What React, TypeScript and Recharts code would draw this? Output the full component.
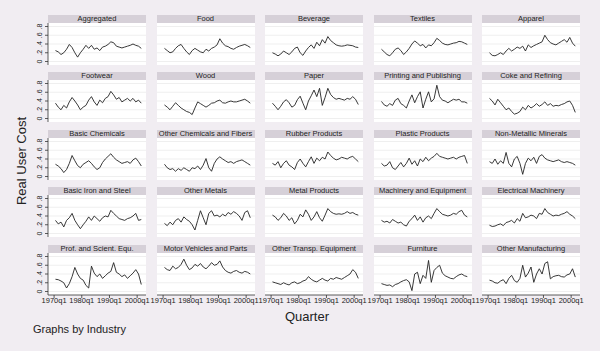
import { LineChart, Line, XAxis, YAxis, CartesianGrid } from "recharts";

// quarterly series at one point per year (1970-2001)
const years = [
  1970, 1971, 1972, 1973, 1974, 1975, 1976, 1977, 1978, 1979, 1980, 1981, 1982, 1983, 1984, 1985,
  1986, 1987, 1988, 1989, 1990, 1991, 1992, 1993, 1994, 1995, 1996, 1997, 1998, 1999, 2000, 2001,
];

const xTicks = [1970, 1980, 1990, 2000];
const xTickLabels = ["1970q1", "1980q1", "1990q1", "2000q1"];
const yTicks = [0, 0.2, 0.4, 0.6, 0.8];
const yTickLabels = ["0", ".2", ".4", ".6", ".8"];

const industries = [
  "Aggregated", "Food", "Beverage", "Textiles", "Apparel",
  "Footwear", "Wood", "Paper", "Printing and Publishing", "Coke and Refining",
  "Basic Chemicals", "Other Chemicals and Fibers", "Rubber Products", "Plastic Products", "Non-Metallic Minerals",
  "Basic Iron and Steel", "Other Metals", "Metal Products", "Machinery and Equipment", "Electrical Machinery",
  "Prof. and Scient. Equ.", "Motor Vehicles and Parts", "Other Transp. Equipment", "Furniture", "Other Manufacturing",
];

const aggregated = [.25, .22, .16, .2, .28, .39, .32, .2, .1, .2, .28, .37, .3, .37, .28, .31, .25, .33, .35, .39, .45, .43, .35, .33, .31, .33, .35, .37, .4, .37, .35, .3];
const food = [.3, .25, .2, .22, .3, .36, .39, .3, .22, .16, .25, .3, .26, .22, .2, .28, .24, .3, .33, .38, .52, .42, .36, .34, .3, .28, .32, .35, .37, .39, .36, .32];
const beverage = [.2, .17, .13, .17, .24, .2, .16, .22, .3, .33, .2, .14, .24, .32, .38, .3, .44, .36, .5, .42, .57, .48, .43, .38, .36, .35, .36, .38, .37, .36, .33, .32];
const textiles = [.28, .22, .16, .13, .2, .28, .31, .25, .16, .22, .3, .4, .47, .42, .36, .39, .31, .38, .36, .43, .53, .48, .42, .39, .38, .4, .42, .43, .46, .45, .42, .39];
const apparel = [.2, .14, .13, .16, .2, .16, .24, .3, .24, .28, .33, .3, .35, .24, .38, .32, .36, .39, .42, .45, .6, .5, .43, .4, .38, .42, .46, .5, .44, .55, .42, .35];
const footwear = [.35, .26, .2, .3, .24, .38, .48, .4, .31, .2, .26, .3, .42, .5, .38, .3, .42, .36, .46, .5, .62, .54, .44, .48, .38, .42, .46, .4, .46, .38, .42, .35];
const wood = [.31, .26, .2, .28, .36, .3, .24, .2, .16, .14, .09, .24, .38, .34, .3, .26, .3, .35, .36, .4, .42, .36, .35, .38, .4, .38, .38, .4, .42, .44, .4, .35];
const paper = [.35, .28, .2, .28, .38, .43, .36, .26, .3, .43, .51, .35, .2, .4, .52, .65, .5, .69, .3, .48, .69, .55, .48, .44, .46, .44, .42, .46, .44, .5, .44, .32];
const printing = [.39, .31, .28, .34, .3, .42, .46, .34, .3, .24, .4, .54, .36, .5, .61, .24, .44, .61, .38, .45, .76, .5, .42, .4, .36, .4, .44, .42, .44, .38, .38, .35];
const coke = [.46, .4, .31, .44, .36, .28, .2, .24, .16, .1, .12, .16, .26, .2, .3, .24, .28, .34, .28, .32, .38, .3, .34, .28, .3, .29, .32, .34, .38, .4, .3, .14];
const basicChem = [.28, .24, .18, .09, .16, .3, .48, .36, .25, .2, .28, .32, .36, .3, .22, .16, .2, .32, .4, .46, .52, .44, .38, .34, .3, .32, .34, .3, .38, .42, .34, .24];
const otherChem = [.28, .2, .16, .18, .12, .18, .14, .2, .16, .12, .2, .18, .24, .16, .26, .41, .2, .12, .3, .4, .45, .4, .36, .32, .34, .3, .34, .36, .38, .34, .3, .26];
const rubber = [.3, .26, .34, .2, .3, .36, .26, .22, .16, .32, .4, .3, .22, .34, .45, .3, .42, .36, .44, .4, .56, .48, .42, .38, .4, .44, .42, .4, .44, .46, .4, .34];
const plastic = [.3, .24, .26, .34, .2, .16, .24, .32, .22, .3, .42, .28, .36, .24, .4, .34, .44, .36, .42, .46, .53, .46, .44, .42, .4, .42, .44, .4, .44, .46, .48, .3];
const nonMetallic = [.34, .3, .4, .28, .36, .3, .55, .3, .22, .4, .46, .3, .05, .3, .42, .36, .44, .3, .46, .5, .42, .38, .36, .34, .36, .38, .34, .32, .34, .32, .3, .26];
const ironSteel = [.3, .22, .26, .15, .3, .36, .46, .3, .2, .11, .2, .28, .38, .3, .4, .34, .28, .36, .4, .38, .53, .46, .4, .34, .32, .3, .34, .36, .4, .46, .3, .32];
const otherMetals = [.23, .18, .26, .2, .3, .34, .26, .38, .32, .28, .2, .08, .3, .52, .36, .2, .46, .52, .4, .42, .38, .44, .4, .48, .44, .5, .46, .4, .3, .48, .52, .36];
const metalProducts = [.42, .38, .3, .36, .46, .4, .3, .36, .22, .3, .44, .38, .54, .44, .3, .38, .5, .36, .28, .42, .57, .5, .46, .44, .45, .44, .46, .5, .46, .48, .44, .42];
const machinery = [.3, .26, .28, .24, .32, .28, .24, .26, .2, .17, .28, .34, .42, .3, .38, .26, .36, .4, .34, .46, .57, .5, .44, .42, .4, .42, .46, .44, .5, .53, .42, .38];
const electrical = [.19, .16, .17, .2, .22, .18, .25, .27, .3, .24, .34, .28, .46, .36, .38, .42, .4, .34, .46, .44, .57, .48, .44, .4, .42, .41, .44, .46, .5, .44, .4, .34];
const profScient = [.28, .27, .24, .2, .08, .18, .34, .55, .4, .3, .26, .14, .08, .58, .42, .34, .4, .3, .36, .42, .46, .66, .44, .4, .34, .38, .3, .36, .42, .5, .4, .16];
const motorVehicles = [.55, .5, .48, .58, .52, .55, .62, .74, .6, .5, .54, .62, .58, .64, .56, .52, .58, .66, .6, .62, .7, .56, .48, .44, .42, .46, .48, .44, .42, .46, .44, .4];
const otherTransp = [.22, .2, .18, .16, .2, .17, .15, .2, .22, .18, .2, .24, .26, .34, .28, .24, .22, .26, .3, .26, .24, .3, .28, .32, .3, .28, .32, .36, .4, .5, .44, .3];
const furniture = [.18, .16, .14, .15, .11, .16, .18, .22, .25, .27, .22, .02, .4, .44, .18, .37, .3, .71, .21, .48, .55, .6, .42, .36, .33, .3, .29, .34, .38, .4, .36, .34];
const otherManuf = [.26, .24, .2, .19, .24, .27, .18, .3, .37, .25, .21, .3, .6, .33, .42, .56, .21, .4, .52, .4, .64, .68, .29, .34, .36, .37, .34, .33, .38, .4, .52, .33];

const series = [
  aggregated, food, beverage, textiles, apparel,
  footwear, wood, paper, printing, coke,
  basicChem, otherChem, rubber, plastic, nonMetallic,
  ironSteel, otherMetals, metalProducts, machinery, electrical,
  profScient, motorVehicles, otherTransp, furniture, otherManuf,
];

const BOX_W = 98;
const BOX_H = 42;
const STRIP_H = 8;
const X_DOMAIN: [number, number] = [1967.8, 2003.2];
const Y_DOMAIN: [number, number] = [-0.08, 0.88];
const PAGE_BG = "#f1edf2";
const STRIP_BG = "#d6d0d8";
const INK = "#222";

function YTick({ x, y, payload }: any) {
  const i = yTicks.findIndex((t) => Math.abs(t - payload.value) < 1e-6);
  const bx = x - 1;
  return (
    <text x={bx} y={y} transform={`rotate(-90 ${bx} ${y})`} textAnchor="middle" fontSize={7} fill={INK}>
      {yTickLabels[i]}
    </text>
  );
}

function formatX(v: number) {
  return xTickLabels[xTicks.indexOf(v)] ?? "";
}

function Panel({ title, values, row, col }: { title: string; values: number[]; row: number; col: number }) {
  const left = 48 + col * 108.5;
  const top = 22.5 + row * 57.5;
  const showY = col === 0;
  const showX = row === 4;
  const padL = 16;
  const padR = 14;
  const padB = showX ? 14 : 0;
  const data = years.map((yr, i) => ({ t: yr + 0.5, v: values[i] }));

  return (
    <>
      <div
        style={{
          position: "absolute",
          left,
          top: top - STRIP_H,
          width: BOX_W,
          height: STRIP_H,
          background: STRIP_BG,
          fontSize: 7.5,
          lineHeight: `${STRIP_H}px`,
          textAlign: "center",
          whiteSpace: "nowrap",
          overflow: "hidden",
          color: INK,
        }}
      >
        {title}
      </div>
      <div style={{ position: "absolute", left: left - padL, top }}>
        <LineChart
          width={padL + BOX_W + padR}
          height={BOX_H + padB}
          data={data}
          margin={{ top: 0, right: padR, bottom: 0, left: showY ? 0 : padL }}
        >
          <CartesianGrid fill="#fff" stroke="#e4e4e4" strokeWidth={0.6} vertical={false} horizontalValues={yTicks} />
          <XAxis
            type="number"
            dataKey="t"
            domain={X_DOMAIN}
            allowDataOverflow
            ticks={xTicks}
            interval={0}
            hide={!showX}
            height={padB}
            tickSize={3}
            tickMargin={0}
            axisLine={{ stroke: "#333", strokeWidth: 0.8 }}
            tickLine={{ stroke: "#333", strokeWidth: 0.8 }}
            tick={{ fontSize: 7.5, fill: INK }}
            tickFormatter={formatX}
          />
          <YAxis
            type="number"
            domain={Y_DOMAIN}
            allowDataOverflow
            ticks={yTicks}
            interval={0}
            hide={!showY}
            width={padL}
            tickSize={3}
            axisLine={{ stroke: "#333", strokeWidth: 0.8 }}
            tickLine={{ stroke: "#333", strokeWidth: 0.8 }}
            tick={<YTick />}
          />
          <Line type="linear" dataKey="v" stroke={INK} strokeWidth={0.9} dot={false} isAnimationActive={false} />
        </LineChart>
      </div>
    </>
  );
}

export default function App() {
  return (
    <div
      style={{
        position: "absolute",
        left: 0,
        top: 0,
        width: 600,
        height: 351,
        background: PAGE_BG,
        fontFamily: "'Liberation Sans', Arial, sans-serif",
        overflow: "hidden",
      }}
    >
      {industries.map((name, i) => (
        <Panel key={name} title={name} values={series[i]} row={Math.floor(i / 5)} col={i % 5} />
      ))}
      <div
        style={{
          position: "absolute",
          left: 21,
          top: 161,
          transform: "translate(-50%, -50%) rotate(-90deg)",
          fontSize: 13,
          whiteSpace: "nowrap",
          color: INK,
        }}
      >
        Real User Cost
      </div>
      <div
        style={{
          position: "absolute",
          left: 307,
          top: 316,
          transform: "translate(-50%, -50%)",
          fontSize: 13,
          color: INK,
        }}
      >
        Quarter
      </div>
      <div
        style={{
          position: "absolute",
          left: 33,
          top: 329,
          transform: "translateY(-50%)",
          fontSize: 11,
          color: INK,
        }}
      >
        Graphs by Industry
      </div>
    </div>
  );
}
